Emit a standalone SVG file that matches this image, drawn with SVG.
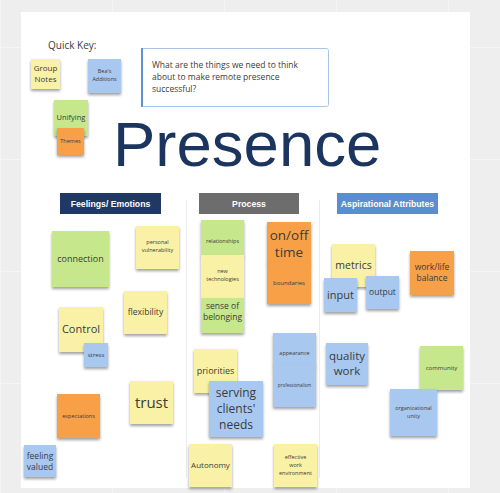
<svg xmlns="http://www.w3.org/2000/svg" width="500" height="493" viewBox="0 0 500 493">
<defs>
<pattern id="grid" width="112" height="112" patternUnits="userSpaceOnUse" x="0" y="47">
<rect width="112" height="112" fill="#eeeeee"/>
<path d="M0 0H112M0 0V112" stroke="#f6f6f6" stroke-width="1.5" fill="none"/>
</pattern>
<filter id="sh" x="-20%" y="-20%" width="140%" height="150%">
<feDropShadow dx="0" dy="2" stdDeviation="1.4" flood-color="#000" flood-opacity="0.38"/>
</filter>
<style>
.y{fill:#f9f2a6;filter:url(#sh)}
.g{fill:#c7e78d;filter:url(#sh)}
.b{fill:#a9c8f0;filter:url(#sh)}
.o{fill:#f8a046;filter:url(#sh)}
.t{font-family:"Open Sans","Liberation Sans",sans-serif;fill:#3b3b3b;text-anchor:middle}
.h{font-family:"Liberation Sans",Arial,sans-serif;font-weight:bold;fill:#ffffff;text-anchor:middle;font-size:8.7px}
</style>
</defs>
<rect width="500" height="493" fill="url(#grid)"/>
<rect x="21" y="12" width="449" height="476" fill="#ffffff"/>
<g id="dividers" stroke="#ececec" stroke-width="1">
<line x1="186.5" y1="200" x2="186.5" y2="478"/>
<line x1="319.5" y1="200" x2="319.5" y2="478"/>
</g>
<g id="quick-key">
<text x="48" y="49" class="t" style="text-anchor:start;font-size:10px">Quick Key:</text>
<rect class="y" x="31" y="59" width="29" height="30"/>
<text class="t" font-size="8" x="45.5" y="71">Group</text>
<text class="t" font-size="8" x="45.5" y="82">Notes</text>
<rect class="b" x="88" y="59" width="33" height="34"/>
<text class="t" font-size="5.5" x="104.5" y="73">Bea's</text>
<text class="t" font-size="5.5" x="104.5" y="81">Additions</text>
<rect class="g" x="54" y="100" width="34" height="36"/>
<text class="t" font-size="7.5" x="71" y="120">Unifying</text>
<rect class="o" x="57" y="128" width="27" height="27"/>
<text class="t" font-size="5.5" x="70.5" y="143">Themes</text>
</g>
<g id="question">
<rect x="141.5" y="48.5" width="187" height="58" rx="2" fill="#ffffff" stroke="#a9c5e6" stroke-width="1"/>
<rect x="141" y="48" width="2" height="59" fill="#5f93cf"/>
<text class="t" style="text-anchor:start;font-size:8.5px" x="152" y="68">What are the things we need to think</text>
<text class="t" style="text-anchor:start;font-size:8.5px" x="152" y="80">about to make remote presence</text>
<text class="t" style="text-anchor:start;font-size:8.5px" x="152" y="92">successful?</text>
</g>
<g id="title">
<text x="113" y="166" font-family="'Liberation Sans',Arial,sans-serif" font-size="63.5" fill="#1c355f">Presence</text>
</g>
<g id="headers">
<rect x="60" y="193" width="101" height="21" fill="#1f3864"/>
<text class="h" x="110.5" y="206.5">Feelings/ Emotions</text>
<rect x="199" y="193" width="100" height="21" fill="#6d6d6d"/>
<text class="h" x="249" y="206.5">Process</text>
<rect x="337" y="193" width="101" height="21" fill="#5b8ed0"/>
<text class="h" x="387.5" y="206.5">Aspirational Attributes</text>
</g>
<g id="col-feelings">
<rect class="g" x="52" y="231" width="57" height="56"/>
<text class="t" font-size="9" x="80.5" y="262">connection</text>
<rect class="y" x="136" y="226" width="43" height="43"/>
<text class="t" font-size="5.5" x="157.5" y="244">personal</text>
<text class="t" font-size="5.5" x="157.5" y="252">vulnerability</text>
<rect class="y" x="124" y="291" width="43" height="43"/>
<text class="t" font-size="8.5" x="145.5" y="315">flexibility</text>
<rect class="y" x="59" y="307" width="44" height="45"/>
<text class="t" font-size="11" x="81" y="333">Control</text>
<rect class="b" x="84" y="343" width="24" height="24"/>
<text class="t" font-size="6" x="96" y="357">stress</text>
<rect class="y" x="130" y="381" width="43" height="43"/>
<text class="t" font-size="15" x="151.5" y="408">trust</text>
<rect class="o" x="57" y="394" width="43" height="44"/>
<text class="t" font-size="5.5" x="78.5" y="418">expectations</text>
<rect class="b" x="24" y="445" width="32" height="32"/>
<text class="t" font-size="8.5" x="40" y="459">feeling</text>
<text class="t" font-size="8.5" x="40" y="470">valued</text>
</g>
<g id="col-process">
<rect class="g" x="201" y="220" width="43" height="36"/>
<text class="t" font-size="5.5" x="222.5" y="243">relationships</text>
<rect class="y" x="201" y="255" width="43" height="43"/>
<text class="t" font-size="5.5" x="222.5" y="273">new</text>
<text class="t" font-size="5.5" x="222.5" y="281">technologies</text>
<rect class="g" x="201" y="298" width="43" height="35"/>
<text class="t" font-size="8.5" x="222.5" y="309">sense of</text>
<text class="t" font-size="8.5" x="222.5" y="320">belonging</text>
<rect class="o" x="267" y="222" width="44" height="41"/>
<text class="t" font-size="13.5" x="289" y="240">on/off</text>
<text class="t" font-size="13.5" x="289" y="257">time</text>
<rect class="o" x="267" y="262" width="44" height="42"/>
<text class="t" font-size="6" x="289" y="285">boundaries</text>
<rect class="b" x="273" y="333" width="43" height="33"/>
<text class="t" font-size="5.5" x="294.5" y="355">appearance</text>
<rect class="b" x="273" y="365" width="43" height="42"/>
<text class="t" font-size="4.5" x="294.5" y="387">professionalism</text>
<rect class="y" x="194" y="349" width="43" height="44"/>
<text class="t" font-size="9" x="215.5" y="374">priorities</text>
<rect class="b" x="209" y="381" width="54" height="56"/>
<text class="t" font-size="12" x="236" y="397">serving</text>
<text class="t" font-size="12" x="236" y="413">clients'</text>
<text class="t" font-size="12" x="236" y="429">needs</text>
<rect class="y" x="189" y="444" width="43" height="43"/>
<text class="t" font-size="8" x="210.5" y="468">Autonomy</text>
<rect class="y" x="274" y="444" width="43" height="43"/>
<text class="t" font-size="5.5" x="295.5" y="459">effective</text>
<text class="t" font-size="5.5" x="295.5" y="467">work</text>
<text class="t" font-size="5.5" x="295.5" y="475">environment</text>
</g>
<g id="col-aspirational">
<rect class="y" x="332" y="244" width="43" height="43"/>
<text class="t" font-size="10.5" x="353.5" y="269">metrics</text>
<rect class="b" x="324" y="278" width="33" height="34"/>
<text class="t" font-size="11" x="340.5" y="299">input</text>
<rect class="b" x="366" y="276" width="33" height="33"/>
<text class="t" font-size="8.5" x="382.5" y="295">output</text>
<rect class="o" x="410" y="251" width="44" height="44"/>
<text class="t" font-size="8.5" x="432" y="270">work/life</text>
<text class="t" font-size="8.5" x="432" y="281">balance</text>
<rect class="b" x="326" y="343" width="42" height="42"/>
<text class="t" font-size="11.5" x="347" y="360">quality</text>
<text class="t" font-size="11.5" x="347" y="375">work</text>
<rect class="g" x="420" y="346" width="43" height="44"/>
<text class="t" font-size="6" x="441.5" y="370">community</text>
<rect class="b" x="390" y="389" width="47" height="47"/>
<text class="t" font-size="5.5" x="413.5" y="410">organizational</text>
<text class="t" font-size="5.5" x="413.5" y="418">unity</text>
</g>
</svg>
